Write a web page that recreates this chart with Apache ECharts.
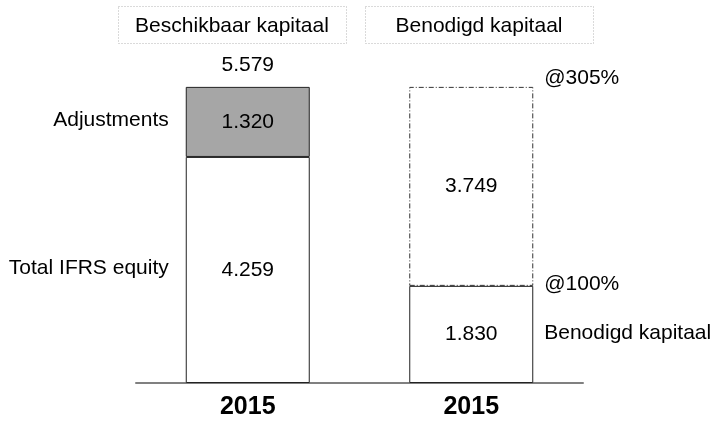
<!DOCTYPE html>
<html>
<head>
<meta charset="utf-8">
<script src="https://cdn.jsdelivr.net/npm/echarts@6/dist/echarts.min.js"></script>
<style>
  html, body { margin: 0; padding: 0; background: #fff; }
  #chart { width: 720px; height: 421px; }
</style>
</head>
<body>
<div id="chart"></div>
<script>
  // data (in miljoen, Dutch thousands separator)
  const categories = ['2015', '2015'];
  const baseValues = [4259, 1830];      // Total IFRS equity / Benodigd kapitaal @100%
  const topValues = [1320, 3749];       // Adjustments / extra tot @305%
  const headers = ['Beschikbaar kapitaal', 'Benodigd kapitaal'];
  const leftNotes = ['Adjustments', 'Total IFRS equity'];
  const rightNotes = ['@305%', '@100%', 'Benodigd kapitaal'];

  const FONT = '"Liberation Sans", Arial, sans-serif';
  const fmt = v => String(v).replace(/\B(?=(\d{3})+(?!\d))/g, '.');
  const barWidth = 124;

  const chart = echarts.init(document.getElementById('chart'), null, { renderer: 'canvas' });

  chart.setOption({
    animation: false,
    textStyle: { fontFamily: FONT },
    grid: { left: 136, right: 137, top: 38, bottom: 38 },
    xAxis: {
      type: 'category',
      data: categories,
      axisTick: { show: false },
      axisLine: { lineStyle: { color: '#808080', width: 2 } },
      axisLabel: { color: '#000', fontSize: 25, fontWeight: 'bold', margin: 12, fontFamily: FONT }
    },
    yAxis: {
      type: 'value',
      min: 0,
      max: 6500,
      show: false,
      splitLine: { show: false }
    },
    series: [
      {
        type: 'bar',
        stack: 'cap',
        barWidth: barWidth,
        z: 3,
        data: baseValues,
        itemStyle: { color: '#fff', borderColor: '#222', borderWidth: 1 },
        label: {
          show: true, position: 'inside', color: '#000', fontSize: 21, fontFamily: FONT,
          formatter: p => fmt(p.value)
        }
      },
      {
        type: 'bar',
        stack: 'cap',
        barWidth: barWidth,
        z: 2,
        data: topValues.map((v, i) => ({
          value: v,
          itemStyle: i === 0
            ? { color: '#a6a6a6', borderColor: '#222', borderWidth: 1 }
            : { color: '#fff', borderColor: '#333', borderWidth: 1, borderType: [5, 2, 1, 2] }
        })),
        label: {
          show: true, position: 'inside', color: '#000', fontSize: 21, fontFamily: FONT,
          formatter: p => fmt(p.value)
        }
      }
    ]
  });

  // annotations placed from the axis scales
  function buildGraphic() {
    const half = barWidth / 2;
    const px = (i, v) => chart.convertToPixel({ gridIndex: 0 }, [i, v]);
    const total0 = baseValues[0] + topValues[0];
    const total1 = baseValues[1] + topValues[1];
    const l0 = px(0, total0), r1 = px(1, total1);
    const lBaseMid = px(0, baseValues[0] / 2), lTopMid = px(0, baseValues[0] + topValues[0] / 2);
    const rBaseTop = px(1, baseValues[1]), rBaseMid = px(1, baseValues[1] / 2);
    const txt = (x, y, text, align) => ({
      type: 'text', x: x, y: y,
      style: { text: text, fill: '#000', font: '21px ' + FONT, align: align, verticalAlign: 'middle' }
    });
    const box = (x, text) => ({
      type: 'group', x: x, y: 6,
      children: [
        { type: 'rect', shape: { x: 0.5, y: 0.5, width: 228, height: 37 },
          style: { fill: 'none', stroke: '#b4b4b4', lineWidth: 1, lineDash: [1, 2] } },
        { type: 'text', x: 114, y: 20,
          style: { text: text, fill: '#000', font: '21px ' + FONT, align: 'center', verticalAlign: 'middle' } }
      ]
    });
    return [
      box(118, headers[0]),
      box(365, headers[1]),
      txt(l0[0], l0[1] - 22, fmt(total0), 'center'),
      txt(l0[0] - half - 17, lTopMid[1] - 2, leftNotes[0], 'right'),
      txt(l0[0] - half - 17, lBaseMid[1] - 2, leftNotes[1], 'right'),
      txt(r1[0] + half + 11, r1[1] - 9, rightNotes[0], 'left'),
      txt(r1[0] + half + 11, rBaseTop[1] - 2, rightNotes[1], 'left'),
      txt(r1[0] + half + 11, rBaseMid[1] - 1, rightNotes[2], 'left')
    ];
  }
  chart.setOption({ graphic: buildGraphic() });
</script>
</body>
</html>
